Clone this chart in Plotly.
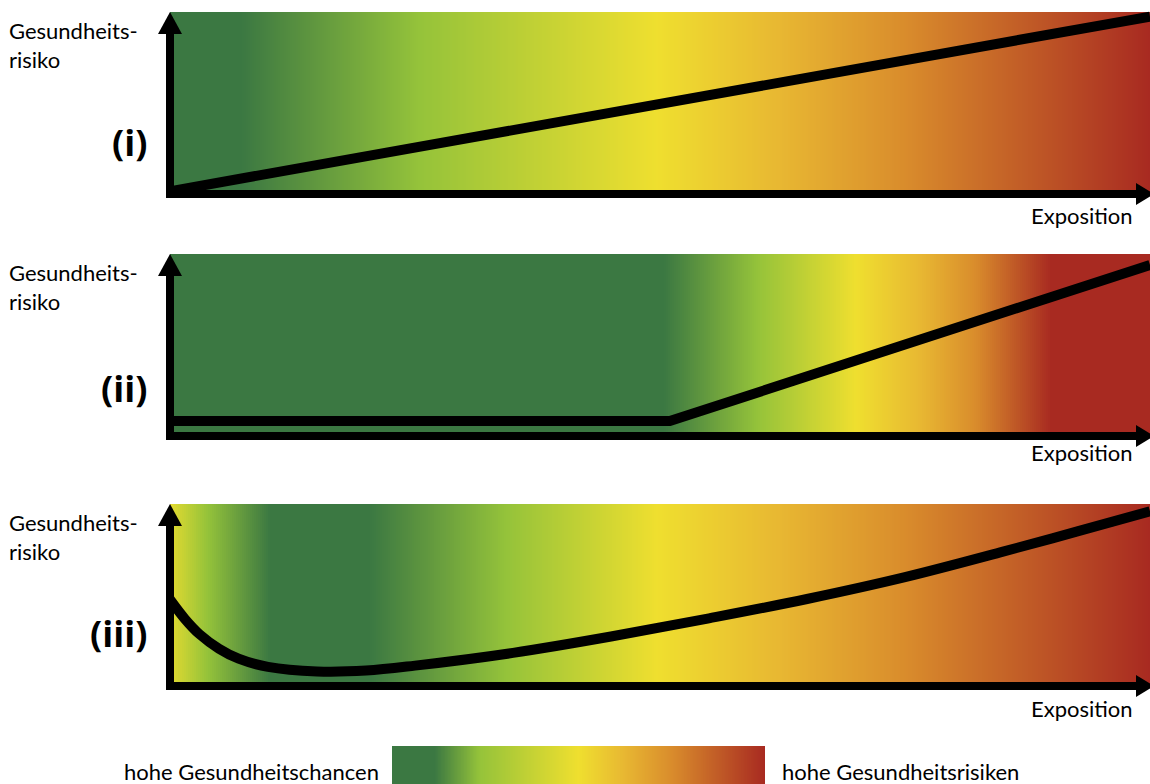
import numpy as np
import plotly.graph_objects as go

W, H = 1150, 784

# ---------------- data ----------------
panel_labels = ["(i)", "(ii)", "(iii)"]
y_title = "Gesundheits-<br>risiko"
x_title = "Exposition"
legend_low = "hohe Gesundheitschancen"
legend_high = "hohe Gesundheitsrisiken"

# exposure (0-10) vs. health risk (0-10)
curve1_x = [0, 10]
curve1_y = [0.15, 9.75]

curve2_x = [0, 5.1, 10]
curve2_y = [0.82, 0.82, 9.4]

curve3_x = [0, 0.15, 0.3, 0.5, 0.7, 1.0, 1.5, 2.0, 2.5, 3.5, 4.5, 5.5, 6.5, 7.5, 8.5, 9.25, 10]
curve3_y = [4.75, 3.7, 2.85, 2.05, 1.5, 1.05, 0.8, 0.85, 1.12, 1.82, 2.72, 3.72, 4.78, 5.98, 7.38, 8.48, 9.6]

# colour gradients (position along exposure axis 0-1)
GREEN, LIME, YELLOW, GOLD, ORANGE, RED = "#3b7842", "#95c33a", "#efdf2f", "#e8b832", "#d98c2c", "#a82a21"
YELLOW_L = "#e3da30"

grad1_pos = [0, 0.073, 0.255, 0.497, 0.62, 0.75, 1.0]
grad1_col = [GREEN, GREEN, LIME, YELLOW, GOLD, ORANGE, RED]

grad2_pos = [0, 0.504, 0.60, 0.70, 0.765, 0.822, 0.899, 1.0]
grad2_col = [GREEN, GREEN, LIME, YELLOW, GOLD, ORANGE, RED, RED]

grad3_pos = [0, 0.038, 0.102, 0.204, 0.344, 0.497, 0.62, 0.75, 1.0]
grad3_col = [YELLOW_L, LIME, GREEN, GREEN, LIME, YELLOW, GOLD, ORANGE, RED]

legend_pos = [0, 0.115, 0.235, 0.5, 0.62, 0.75, 1.0]
legend_col = [GREEN, GREEN, LIME, YELLOW, GOLD, ORANGE, RED]

# ---------------- layout geometry (pixels) ----------------
X0, X1 = 170, 1150
panels = [
    dict(T=12, A=194, lab_y=142, exp_y=216, grad=(grad1_pos, grad1_col), cx=curve1_x, cy=curve1_y, shape="linear"),
    dict(T=254, A=436, lab_y=388, exp_y=452, grad=(grad2_pos, grad2_col), cx=curve2_x, cy=curve2_y, shape="linear"),
    dict(T=504, A=686, lab_y=633, exp_y=708, grad=(grad3_pos, grad3_col), cx=curve3_x, cy=curve3_y, shape="spline"),
]
FONT = "Lato"
LABEL_FONT = "Open Sans"


def px(x):
    return x / W


def py(y):
    return 1 - y / H


N = 490
edges = np.linspace(0, 10, N + 1)
ramp = [[(i + 0.5) / N for i in range(N)]]

fig = go.Figure()
layout = {}
shapes = []
annotations = []

for k, p in enumerate(panels):
    sfx = "" if k == 0 else str(k + 1)
    T, A = p["T"], p["A"]
    ppu = (A - T) / 10.0
    pad = 8
    gpos, gcol = p["grad"]
    fig.add_trace(go.Heatmap(
        x=edges, y=[0, 10], z=ramp, zmin=0, zmax=1,
        colorscale=[[a, c] for a, c in zip(gpos, gcol)],
        showscale=False, hoverinfo="skip",
        xaxis="x" + sfx, yaxis="y" + sfx))
    fig.add_trace(go.Scatter(
        x=p["cx"], y=p["cy"], mode="lines",
        line=dict(color="black", width=10, shape=p["shape"], smoothing=1.0),
        hoverinfo="skip", showlegend=False,
        xaxis="x" + sfx, yaxis="y" + sfx))
    layout["xaxis" + sfx] = dict(domain=[px(X0), 1], range=[0, 10], visible=False, fixedrange=True)
    layout["yaxis" + sfx] = dict(domain=[py(A + pad), py(T - pad)],
                                 range=[-pad / ppu, 10 + pad / ppu], visible=False, fixedrange=True)

    # axes with arrowheads
    shapes.append(dict(type="rect", xref="paper", yref="paper", x0=px(166), x1=px(174),
                       y0=py(A + 4), y1=py(T + 20), fillcolor="black", line=dict(width=0)))
    shapes.append(dict(type="rect", xref="paper", yref="paper", x0=px(166), x1=px(1138),
                       y0=py(A + 4), y1=py(A - 4), fillcolor="black", line=dict(width=0)))
    shapes.append(dict(type="path", xref="paper", yref="paper",
                       path=f"M {px(170)},{py(T)} L {px(182)},{py(T + 22)} L {px(158)},{py(T + 22)} Z",
                       fillcolor="black", line=dict(width=0)))
    shapes.append(dict(type="path", xref="paper", yref="paper",
                       path=f"M {px(1154)},{py(A)} L {px(1136)},{py(A - 11)} L {px(1136)},{py(A + 11)} Z",
                       fillcolor="black", line=dict(width=0)))

    annotations.append(dict(text=y_title, x=px(7), y=py(T + 33), xref="paper", yref="paper",
                            xanchor="left", yanchor="middle", align="left", showarrow=False,
                            font=dict(family=FONT, size=22, color="black")))
    annotations.append(dict(text="<b>" + panel_labels[k] + "</b>", x=px(149), y=py(p["lab_y"]),
                            xref="paper", yref="paper", xanchor="right", yanchor="middle",
                            showarrow=False, font=dict(family=LABEL_FONT, size=36, color="black")))
    annotations.append(dict(text=x_title, x=px(1135), y=py(p["exp_y"]), xref="paper", yref="paper",
                            xanchor="right", yanchor="middle", showarrow=False,
                            font=dict(family=FONT, size=22, color="black")))

# legend colour bar
fig.add_trace(go.Heatmap(
    x=edges, y=[0, 1], z=ramp, zmin=0, zmax=1,
    colorscale=[[a, c] for a, c in zip(legend_pos, legend_col)],
    showscale=False, hoverinfo="skip", xaxis="x4", yaxis="y4"))
layout["xaxis4"] = dict(domain=[px(392), px(765)], range=[0, 10], visible=False, fixedrange=True)
layout["yaxis4"] = dict(domain=[py(784), py(746)], range=[0, 1], visible=False, fixedrange=True)

annotations.append(dict(text=legend_low, x=px(381), y=py(771), xref="paper", yref="paper",
                        xanchor="right", yanchor="middle", showarrow=False,
                        font=dict(family=FONT, size=22, color="black")))
annotations.append(dict(text=legend_high, x=px(780), y=py(771), xref="paper", yref="paper",
                        xanchor="left", yanchor="middle", showarrow=False,
                        font=dict(family=FONT, size=22, color="black")))

fig.update_layout(
    width=W, height=H, margin=dict(l=0, r=0, t=0, b=0),
    paper_bgcolor="white", plot_bgcolor="white",
    showlegend=False, shapes=shapes, annotations=annotations,
    **layout)

fig.write_html("out.html", config={"displayModeBar": False, "staticPlot": True},
               post_script="document.body.style.margin='0';document.body.style.overflow='hidden';")
